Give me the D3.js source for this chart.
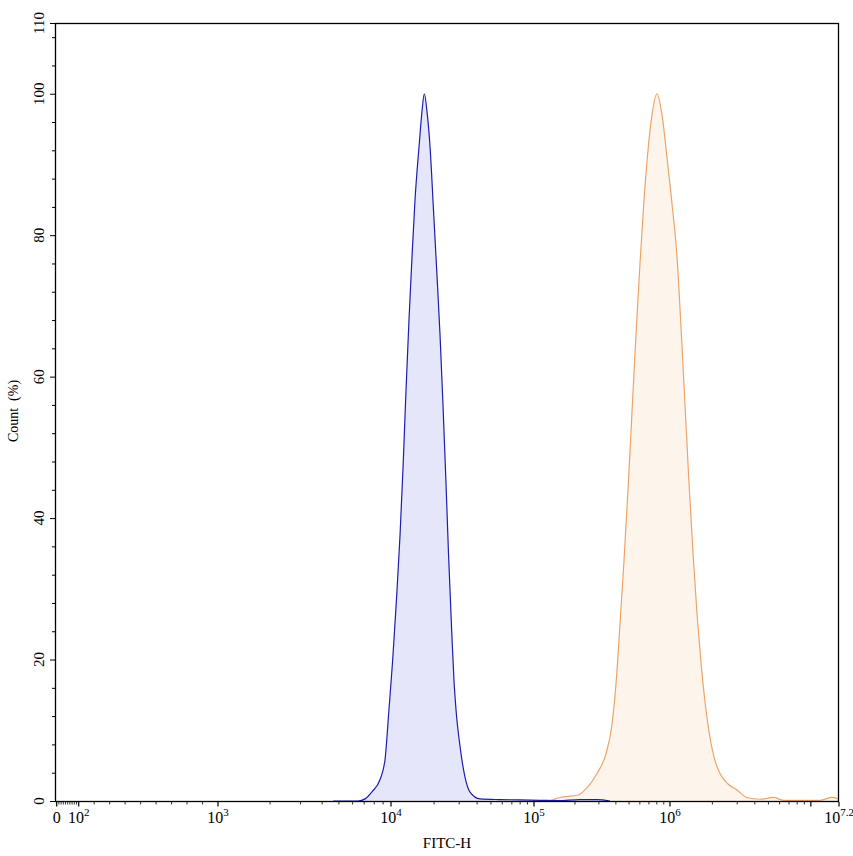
<!DOCTYPE html>
<html>
<head>
<meta charset="utf-8">
<script src="https://cdn.jsdelivr.net/npm/d3@7"></script>
<style>
body { margin: 0; background: #fff; }
svg { display: block; }
text { font-family: "Liberation Serif", "Times New Roman", serif; fill: #000; }
</style>
</head>
<body>
<div id="chart"></div>
<script>

var w = 853
var h = 856

// plot box
var boxL = 55, boxR = 838, boxT = 23, boxB = 801

// DATA ********************************
// FITC-H intensity (x) and count in % of max (y)
var blueFITC = [4630, 6440, 7080, 7760, 8630, 9230, 9730, 10280, 10960, 11560, 12130, 12730, 13360,
    14030, 14720, 15780, 16470, 17100, 17850, 18750, 19770, 20880, 22010, 23100, 24240, 25240,
    26580, 27580, 28490, 30400, 32900, 35600, 41900, 57800, 79800, 110700, 150000, 218000,
    290000, 362000]
var bluePct = [0, 0, 0.3, 1.3, 3.0, 5.8, 12.9, 20, 29, 37.5, 47, 58, 68,
    77, 85, 93, 97.5, 100, 97.5, 92.5, 84, 75, 66, 56, 45, 35,
    24, 17, 12.9, 7.7, 3.4, 1.3, 0.3, 0.2, 0.15, 0.1, 0.05, 0.2,
    0.2, 0]

var orangeFITC = [110000, 124700, 155300, 210900, 237300, 290400, 338300, 372400, 400700, 428900,
    459000, 491200, 525600, 562300, 601700, 643900, 689000, 737400, 802200, 873400, 950500,
    1033000, 1121000, 1197000, 1278000, 1364000, 1457000, 1555000, 1661000, 1773000, 1892000,
    2054000, 2265000, 2582000, 2977000, 3508000, 4363000, 5431000, 6397000, 7500000, 11670000,
    14130000, 15660000]
var orangePct = [0, 0, 0.5, 0.85, 1.6, 3.9, 6.7, 10.5, 16.5, 25,
    34, 44, 55, 66, 76, 85, 92, 97, 100, 97, 91,
    84.5, 77, 67, 56, 45, 35, 26.5, 19.5, 14, 9.8,
    6.2, 3.9, 2.4, 1.6, 0.5, 0.25, 0.5, 0.1, 0.1, 0.1,
    0.5, 0.3]

// axis ticks
var xMajor = [0, 100, 1000, 1e4, 1e5, 1e6, 1e7, Math.pow(10, 7.2)]
var xLabels = ["0", "2", "3", "4", "5", "6", "", "7.2"]   // exponents of 10, "0" is plain
var yMajor = [0, 20, 40, 60, 80, 100, 110]
var yMinorStep = 4

// SCALES ********************************
var yScale = d3.scaleLinear().domain([0, 110]).range([boxB, boxT])

// display is linear near zero and log further up (biexponential-like)
var xLin = d3.scaleLinear().domain([0, 100, 1000]).range([56.7, 78.7, 218])
var xLog = d3.scaleLinear().domain([3, 4, 5, 6, 7.2]).range([218, 391, 534, 670, boxR + 1])
function xScale(v) {
    return v <= 1000 ? xLin(v) : xLog(Math.log10(v))
}

var svg = d3.select("#chart").append("svg")
    .attr("width", w)
    .attr("height", h)

// CURVES ********************************
function toPoints(xs, ys) {
    return xs.map(function(v, i) { return [v, ys[i]] })
}

var line = d3.line()
    .x(function(d) { return xScale(d[0]) })
    .y(function(d) { return yScale(d[1]) })
    .curve(d3.curveMonotoneX)

var area = d3.area()
    .x(function(d) { return xScale(d[0]) })
    .y0(yScale(0))
    .y1(function(d) { return yScale(d[1]) })
    .curve(d3.curveMonotoneX)

var series = [
    {pts: toPoints(orangeFITC, orangePct), stroke: "#eea468", fill: "#fdf4eb"},
    {pts: toPoints(blueFITC, bluePct), stroke: "#1c1cb0", fill: "#e6e6fb"}
]

series.forEach(function(s) {
    svg.append("path")
        .attr("d", area(s.pts))
        .attr("fill", s.fill)
    svg.append("path")
        .attr("d", line(s.pts))
        .attr("fill", "none")
        .attr("stroke", s.stroke)
        .attr("stroke-width", 1.2)
})

// FRAME ********************************
svg.append("rect")
    .attr("x", boxL + 0.5).attr("y", boxT + 0.5)
    .attr("width", boxR - boxL).attr("height", boxB - boxT)
    .attr("fill", "none")
    .attr("stroke", "#000")
    .attr("stroke-width", 1.3)

// Y AXIS ********************************
var yMinor = d3.range(0, 110, yMinorStep).filter(function(v) { return yMajor.indexOf(v) < 0 })

svg.selectAll(".ymin").data(yMinor).enter().append("line")
    .attr("x1", boxL - 3).attr("x2", boxL)
    .attr("y1", function(d) { return yScale(d) + 0.5 })
    .attr("y2", function(d) { return yScale(d) + 0.5 })
    .attr("stroke", "#000")

svg.selectAll(".ymaj").data(yMajor).enter().append("line")
    .attr("x1", boxL - 5).attr("x2", boxL)
    .attr("y1", function(d) { return yScale(d) + 0.5 })
    .attr("y2", function(d) { return yScale(d) + 0.5 })
    .attr("stroke", "#000")

svg.selectAll(".ylab").data(yMajor).enter().append("text")
    .attr("transform", function(d) { return "translate(44," + yScale(d) + ") rotate(-90)" })
    .attr("text-anchor", "middle")
    .style("font-size", "15px")
    .text(function(d) { return d })

svg.append("text")
    .attr("transform", "translate(18,411) rotate(-90)")
    .attr("text-anchor", "middle")
    .style("font-size", "14px")
    .style("white-space", "pre")
    .text("Count  (%)")

// X AXIS ********************************
var xMinor = []
d3.range(1, 10).forEach(function(k) { xMinor.push(k * 10) })
;[100, 1000, 1e4, 1e5, 1e6].forEach(function(dec) {
    d3.range(2, 10).forEach(function(k) { xMinor.push(k * dec) })
})

svg.selectAll(".xmin").data(xMinor).enter().append("line")
    .attr("x1", function(d) { return xScale(d) })
    .attr("x2", function(d) { return xScale(d) })
    .attr("y1", boxB + 1).attr("y2", boxB + 3.5)
    .attr("stroke", "#000")
    .attr("stroke-width", 0.8)

svg.selectAll(".xmaj").data(xMajor).enter().append("line")
    .attr("x1", function(d) { return xScale(d) })
    .attr("x2", function(d) { return xScale(d) })
    .attr("y1", boxB + 1).attr("y2", boxB + 5.5)
    .attr("stroke", "#000")
    .attr("stroke-width", 1.2)

var xl = svg.selectAll(".xlab").data(xMajor).enter().append("text")
    .attr("x", function(d) { return xScale(d) })
    .attr("y", 823)
    .attr("text-anchor", "middle")
    .style("font-size", "16px")

xl.each(function(d, i) {
    var t = d3.select(this)
    if (xLabels[i] === "") return
    if (d === 0) { t.text("0"); return }
    t.append("tspan").text("10")
    t.append("tspan")
        .attr("dy", -7)
        .style("font-size", "11px")
        .text(xLabels[i])
})

svg.append("text")
    .attr("x", 447).attr("y", 848)
    .attr("text-anchor", "middle")
    .style("font-size", "15px")
    .text("FITC-H")

</script>
</body>
</html>
